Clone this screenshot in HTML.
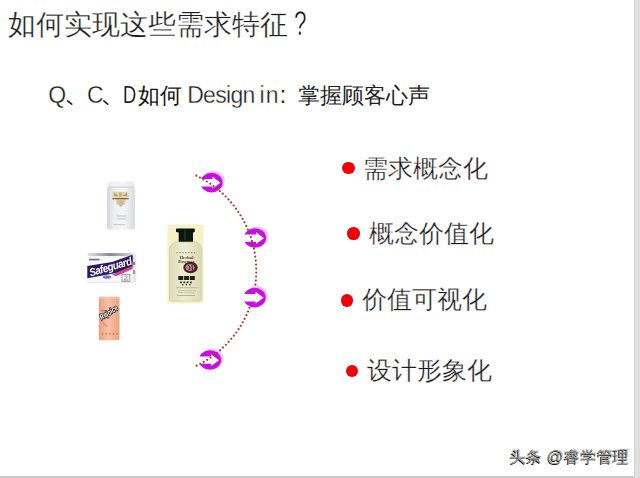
<!DOCTYPE html>
<html><head><meta charset="utf-8">
<style>
html,body{margin:0;padding:0;}
body{width:640px;height:478px;position:relative;overflow:hidden;background:#fff;font-family:"Liberation Sans",sans-serif;color:#1e1e1e;}
.t{position:absolute;white-space:nowrap;line-height:1;}
.th{-webkit-text-stroke:0.3px #fff;}
.b{position:absolute;width:12.7px;height:12.7px;border-radius:50%;background:#f00008;}
.bt{position:absolute;font-size:25px;white-space:nowrap;line-height:1;color:#1a1a1a;-webkit-text-stroke:0.3px #fff;}
#rbar{position:absolute;left:634px;top:0;width:6px;height:478px;background:linear-gradient(90deg,#cfcfcf 0,#e4e4e4 35%,#dcdcdc 100%);}
#bbar{position:absolute;left:0;top:476px;width:634px;height:2px;background:linear-gradient(180deg,#d0d0d0,#c4c4c4);}
#wm{position:absolute;left:509.5px;top:448px;font-size:16.4px;letter-spacing:0.35px;color:#9a9a9a;white-space:nowrap;line-height:1;text-shadow:-0.8px 0.8px 0 #111,0.6px -0.3px 0 #eee;}
svg{position:absolute;left:0;top:0;}
</style></head><body>
<div class="t th" style="left:8px;top:10px;font-size:28.2px;">如何实现这些需求特征</div>
<div class="t th" style="left:293.7px;top:6.2px;font-size:34.7px;transform:scaleX(0.65);transform-origin:0 0;">?</div>

<div class="t th" style="left:48.2px;top:84.3px;font-size:23px;">Q</div>
<div class="t th" style="left:87px;top:84px;font-size:23px;">C</div>
<div class="t" style="left:122.9px;top:84.2px;font-size:23px;transform:scaleX(0.8);transform-origin:0 0;">D</div>
<div class="t" style="left:137.9px;top:84.5px;font-size:22.4px;color:#141414;">如何</div>
<div class="t th" style="left:187.2px;top:84.2px;font-size:23px;letter-spacing:-0.7px;">Design</div>
<div class="t th" style="left:259.6px;top:84.2px;font-size:23px;letter-spacing:1px;">in</div>
<div class="t" style="left:279.7px;top:84px;font-size:23px;">:</div>
<div class="t" style="left:297.6px;top:85px;font-size:21.9px;">掌握顾客心声</div>
<svg class="ov" width="640" height="478" viewBox="0 0 640 478"><path d="M67.6,100.9 L71.7,104.2 M103.8,100.9 L107.7,104.2" stroke="#1e1e1e" stroke-width="1.6" stroke-linecap="round"/></svg>

<div class="b" style="left:342px;top:161.7px"></div><div class="bt" style="left:362.5px;top:156px">需求概念化</div>
<div class="b" style="left:347px;top:227.2px"></div><div class="bt" style="left:369px;top:220.5px">概念价值化</div>
<div class="b" style="left:340.5px;top:293.9px"></div><div class="bt" style="left:362px;top:286.5px">价值可视化</div>
<div class="b" style="left:345.5px;top:364.5px"></div><div class="bt" style="left:367px;top:357.5px">设计形象化</div>

<!-- products -->
<svg class="ov" style="filter:blur(0.3px)" width="640" height="478" viewBox="0 0 640 478">
  <defs>
    <linearGradient id="g1" x1="0" x2="1" y1="0" y2="0">
      <stop offset="0" stop-color="#d2d5db"/><stop offset="0.25" stop-color="#eceef2"/><stop offset="0.6" stop-color="#f6f6f8"/><stop offset="1" stop-color="#d8dadf"/>
    </linearGradient>
    <linearGradient id="g3" x1="0" x2="1" y1="0" y2="0">
      <stop offset="0" stop-color="#ec9f80"/><stop offset="0.45" stop-color="#f8c2a6"/><stop offset="1" stop-color="#eea282"/>
    </linearGradient>
    <linearGradient id="g4" x1="0" x2="1" y1="0" y2="0">
      <stop offset="0" stop-color="#dcdcb8"/><stop offset="0.45" stop-color="#eeeed4"/><stop offset="1" stop-color="#dadab4"/>
    </linearGradient>
    <linearGradient id="g2t" x1="0" x2="1" y1="0" y2="0">
      <stop offset="0" stop-color="#e4e2e8"/><stop offset="0.5" stop-color="#8c8896"/><stop offset="1" stop-color="#d8d6de"/>
    </linearGradient>
  </defs>
  <!-- p1 white bottle -->
  <path d="M108.5,183 Q108.5,181.8 110.5,181.8 L131.5,181.8 Q133.5,181.8 133.5,183 L133.8,187 Q135,188.5 135,190 L135,227.5 Q135,229.5 132.5,229.5 L109.5,229.5 Q107,229.5 107,227.5 L107,190 Q107,188.5 108.2,187 Z" fill="url(#g1)"/>
  <rect x="108.2" y="186.6" width="25.6" height="1.1" fill="#cfd2d8"/>
  <rect x="109" y="182.5" width="24" height="3.5" fill="#f2f3f5" opacity="0.7"/>
  <path d="M112.3,191.8 L128.7,191.8 L128.7,197.5 L126.5,197.5 L125,205 L116.5,205 L115,197.5 L112.3,197.5 Z" fill="#e0d2a8" opacity="0.9"/>
  <path d="M114,192.5 L118.5,196 L114,196 Z M127,192.5 L122.5,196 L127,196 Z" fill="#b09058" opacity="0.8"/>
  <rect x="119" y="192.5" width="3" height="4" fill="#c0a468" opacity="0.7"/>
  <rect x="112.3" y="198" width="16.4" height="1.3" fill="#6a5a38" opacity="0.85"/>
  <path d="M117,200.5 L124.5,200.5 L123,204.5 L118.5,204.5 Z" fill="#c8b078" opacity="0.75"/>
  <rect x="119.5" y="205.3" width="3" height="1" fill="#7a6a50" opacity="0.7"/>
  <rect x="116.6" y="215.5" width="9.7" height="0.9" fill="#a8a8ae" opacity="0.8"/>
  <rect x="117.5" y="218.5" width="8.8" height="0.9" fill="#b0b0b6" opacity="0.8"/>
  <rect x="114" y="224" width="11" height="0.9" fill="#b8b8be" opacity="0.8"/>

  <!-- p2 safeguard box -->
  <rect x="87.3" y="255" width="45.5" height="27.3" fill="#f8f7fa"/>
  <path d="M87.8,253 L132.6,253 L132.6,256 L87.8,256 Z" fill="url(#g2t)"/>
  <rect x="132.6" y="254" width="3.6" height="28.3" fill="#e8e6ec"/>
  <rect x="133.2" y="262" width="1.6" height="3" fill="#6a6480"/>
  <rect x="133.2" y="270" width="1.6" height="4" fill="#8a8498"/>
  <path d="M87.3,266 L112,262 L132.6,254.8 L132.6,266.5 L116,273 L87.3,278.2 Z" fill="#2c1a66"/>
  <path d="M118,266 L132.6,256 L132.6,262 L120,270 Z" fill="#1a1040" opacity="0.7"/>
  <path d="M112,274.5 L132.6,265.5 L132.6,269 L116,276.2 Z" fill="#c43072" opacity="0.85"/>
  <rect x="89" y="258.8" width="10.5" height="1.6" fill="#70707c"/>
  <text x="0" y="0" transform="translate(90.5 276.5) rotate(-16) scale(0.9 1)" font-family="Liberation Sans" font-size="11" font-style="italic" font-weight="bold" fill="#fff" letter-spacing="-0.6">Safeguard</text>
  <ellipse cx="107" cy="277" rx="4.2" ry="1.8" fill="#5a64c0" opacity="0.85"/>
  <rect x="122" y="274.3" width="7.8" height="7" fill="none" stroke="#8c8a98" stroke-width="0.9"/>
  <path d="M124,276.5 Q126,275 127.5,276.5 Q126.5,278.5 124,280 L128,280" fill="none" stroke="#8c8a98" stroke-width="0.8"/>
  <rect x="87.3" y="282" width="45.5" height="1" fill="#e6e6ea"/>

  <!-- p3 orange bottle -->
  <path d="M99.5,296.8 L118.5,296.8 Q119.5,296.8 119.5,298.5 L119.5,338.8 Q119.5,340.3 118,340.3 L100.4,340.3 Q98.9,340.3 98.9,338.8 L98.9,298.5 Q98.9,296.8 99.5,296.8 Z" fill="url(#g3)"/>
  <rect x="99.5" y="297.2" width="19.5" height="1.6" fill="#f6c8b2" opacity="0.8"/>
  <text x="0" y="0" transform="translate(101.5 320) rotate(-32) scale(0.75 1)" font-family="Liberation Sans" font-size="7.5" font-weight="bold" font-style="italic" fill="#fff" stroke="#262020" stroke-width="1.6" paint-order="stroke">Rejoice</text>
  <rect x="101" y="310" width="5" height="1.2" fill="#8a5a4a" opacity="0.6"/>
  <path d="M102,321 Q104,325 107.5,326.5" fill="none" stroke="#e0805c" stroke-width="1.2" opacity="0.7"/>
  <path d="M102,333.8 L117.6,333.8" stroke="#d85a38" stroke-width="1.3" stroke-dasharray="1.4 2.2"/>

  <!-- p4 herbal essences -->
  <rect x="167.5" y="224.5" width="36" height="79" fill="#f4f2c6"/>
  <path d="M176,241.8 L196,241.8 Q201.8,244 201.8,250 L201.8,299 Q201.8,301 199.5,301 L171.8,301 Q169.5,301 169.5,299 L169.5,250 Q169.5,244 176,241.8 Z" fill="url(#g4)"/>
  <path d="M176,241.8 L196,241.8 Q201.8,244 201.8,250 L201.8,299 Q201.8,301 199.5,301 L171.8,301 Q169.5,301 169.5,299 L169.5,250 Q169.5,244 176,241.8 Z" fill="none" stroke="#d0cea8" stroke-width="0.8"/>
  <path d="M176,229.2 Q176,228.4 177,228.4 L194,228.4 Q194.8,228.4 194.8,229.2 L194.8,232 L193,232.5 L193,241.8 L178.7,241.8 L178.7,232.5 L176,232 Z" fill="#0a1812"/>
  <rect x="184.5" y="230" width="1" height="10" fill="#3a5a4a" opacity="0.7"/>
  <path d="M176.5,252.6 L197,252.6" stroke="#9a8c70" stroke-width="1.2" stroke-dasharray="1.3 1.6"/>
  <text x="186.5" y="258.8" text-anchor="middle" font-family="Liberation Serif" font-size="5" font-weight="bold" fill="#4a3a28" transform="translate(186.5 0) scale(0.95 1) translate(-186.5 0)">Herbal</text>
  <text x="186.4" y="262.6" text-anchor="middle" font-family="Liberation Serif" font-size="5" font-weight="bold" fill="#4a3a28" letter-spacing="-0.3">Essences</text>
  <ellipse cx="190.5" cy="267.5" rx="7.2" ry="5.8" fill="#4e2228"/>
  <ellipse cx="190" cy="267.5" rx="4.6" ry="3.6" fill="#c8a8b0" opacity="0.75"/>
  <path d="M188,265 Q191,266 189,270 M192,265 L192.5,270" stroke="#4a2a2a" stroke-width="1" fill="none"/>
  <path d="M178.3,278 L194.8,278" stroke="#22200f" stroke-width="4.2" stroke-dasharray="5 0.8"/>
  <path d="M180,282.3 L192,282.3" stroke="#3e3a24" stroke-width="1.8" stroke-dasharray="2 1.3"/>
  <path d="M182,284.8 L190.7,284.8" stroke="#4a4630" stroke-width="1.4" stroke-dasharray="1.4 2.2"/>
  <rect x="176" y="287" width="21.6" height="1.3" fill="#b8b890" opacity="0.8"/>
  <rect x="178" y="290.2" width="18" height="1.1" fill="#c0c09a" opacity="0.8"/>
  <rect x="178" y="292.2" width="16" height="1" fill="#c0c09a" opacity="0.8"/>
  <rect x="177" y="295" width="18" height="1" fill="#a8a888" opacity="0.8"/>
</svg>
<svg class="ov" width="640" height="478" viewBox="0 0 640 478">
  <defs>
    <g id="arr">
      <ellipse cx="2.2" cy="-1.6" rx="11" ry="10" fill="#f0c0f4"/>
      <ellipse cx="0" cy="0" rx="11.1" ry="9.8" fill="#c80ee0"/>
      <path d="M-11.5,-3.6 L1,-3.6 L1,-5.8 L9,0.2 L1,6 L1,3.8 L-11.5,3.8 Z" fill="#fff"/>
    </g>
  </defs>
  <use href="#arr" x="211.5" y="182.6"/>
  <use href="#arr" x="255" y="238"/>
  <use href="#arr" x="210" y="360"/>
  <path d="M196.41,175.70 A105.38,105.38 0 0 1 196.20,365.87" fill="none" stroke="#a83c20" stroke-width="2.2" stroke-linecap="round" stroke-dasharray="0 4.006"/>
  <use href="#arr" x="254.6" y="297.6"/>
</svg>

<div id="wm">头条 @睿学管理</div>
<div id="rbar"></div>
<div id="bbar"></div>
</body></html>
